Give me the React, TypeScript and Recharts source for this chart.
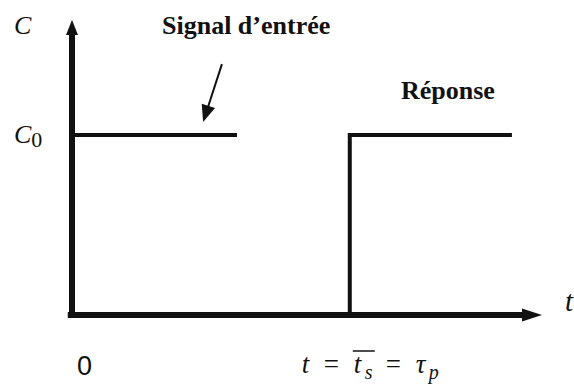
import { LineChart, Line, XAxis, YAxis, ReferenceLine, ReferenceDot } from 'recharts';

// entry signal: step held at C0 from t = 0
const inputTimes = [0, 35.1];
const inputLevels = [1, 1];
// response: delayed step at t = ts
const responseTimes = [59.1, 59.1, 93.6];
const responseLevels = [0, 1, 1];
const xTicks = [0, 59.1];
const yTicks = [1];

const inputData = inputTimes.map((t, i) => ({ t, c: inputLevels[i] }));
const responseData = responseTimes.map((t, i) => ({ t, c: responseLevels[i] }));

const INK = '#111';
const MATH = '"Liberation Serif", "Times New Roman", serif';

function arrowShape(head: number, width: number, stroke: number) {
  return (props: any) => {
    const { x1, y1, x2, y2 } = props;
    const dx = x2 - x1;
    const dy = y2 - y1;
    const len = Math.hypot(dx, dy) || 1;
    const ux = dx / len;
    const uy = dy / len;
    const bx = x2 - ux * head;
    const by = y2 - uy * head;
    const px = (-uy * width) / 2;
    const py = (ux * width) / 2;
    return (
      <g>
        <line x1={x1} y1={y1} x2={bx + ux * 2} y2={by + uy * 2} stroke={INK} strokeWidth={stroke} />
        <polygon points={`${x2},${y2} ${bx + px},${by + py} ${bx - px},${by - py}`} fill={INK} />
      </g>
    );
  };
}

// tick labels are placed from the tick's own x and the plot's bottom edge
function XTick({ x, payload }: any) {
  if (payload.value === 0) {
    return (
      <text x={x + 5} y={375} fontFamily='"Liberation Sans", Arial, sans-serif' fontSize={27} fill={INK}>
        0
      </text>
    );
  }
  const base = 373;
  const x0 = x - 48;
  return (
    <g fill={INK} fontFamily={MATH} fontSize={27}>
      <text y={base}>
        <tspan x={x0} fontStyle="italic">t</tspan>
        <tspan x={x0 + 22}>=</tspan>
        <tspan x={x0 + 52} fontStyle="italic">t</tspan>
        <tspan x={x0 + 63} dy={6} fontSize={20} fontStyle="italic">s</tspan>
        <tspan x={x0 + 84} dy={-6}>=</tspan>
        <tspan x={x0 + 114} fontStyle="italic">τ</tspan>
        <tspan x={x0 + 127} dy={6} fontSize={20} fontStyle="italic">p</tspan>
      </text>
      <line x1={x0 + 51} x2={x0 + 73} y1={base - 22} y2={base - 22} stroke={INK} strokeWidth={1.5} />
    </g>
  );
}

function YTick({ y }: any) {
  return (
    <text x={14} y={y + 8} fill={INK} fontFamily={MATH} fontSize={26}>
      <tspan fontStyle="italic">C</tspan>
      <tspan dy={4} fontSize={22}>0</tspan>
    </text>
  );
}

const textShape = (label: string, dx: number, dy: number, size: number, bold = false, italic = false) =>
  (props: any) => (
    <text
      x={props.cx + dx}
      y={props.cy + dy}
      fill={INK}
      fontFamily={MATH}
      fontSize={size}
      fontWeight={bold ? 700 : 400}
      fontStyle={italic ? 'italic' : 'normal'}
    >
      {label}
    </text>
  );

export default function App() {
  return (
    <div style={{ position: 'fixed', left: 0, top: 0, width: 574, height: 385, background: '#fff' }}>
      <LineChart width={574} height={385} margin={{ top: 20, right: 32, bottom: 40, left: 42 }}>
        <XAxis
          type="number"
          dataKey="t"
          domain={[0, 100]}
          ticks={xTicks}
          height={30}
          axisLine={false}
          tickLine={false}
          tick={<XTick />}
          interval={0}
          allowDataOverflow
        />
        <YAxis
          type="number"
          dataKey="c"
          domain={[0, 1.64]}
          ticks={yTicks}
          width={30}
          axisLine={false}
          tickLine={false}
          tick={<YTick />}
          interval={0}
          allowDataOverflow
        />
        <ReferenceLine
          segment={[{ x: 0, y: -0.015 }, { x: 0, y: 1.64 }]}
          ifOverflow="visible"
          shape={arrowShape(15, 12, 6)}
        />
        <ReferenceLine
          segment={[{ x: -0.9, y: 0 }, { x: 100, y: 0 }]}
          ifOverflow="visible"
          shape={arrowShape(20, 13, 6)}
        />
        <ReferenceLine
          segment={[{ x: 31.9, y: 1.395 }, { x: 27.9, y: 1.073 }]}
          ifOverflow="visible"
          shape={arrowShape(17, 14, 2)}
        />
        <Line data={inputData} dataKey="c" type="linear" stroke={INK} strokeWidth={4} dot={false} isAnimationActive={false} />
        <Line data={responseData} dataKey="c" type="linear" stroke={INK} strokeWidth={4} dot={false} isAnimationActive={false} />
        <ReferenceDot x={0} y={1.64} r={0} ifOverflow="visible" shape={textShape('C', -58, 14, 26, false, true)} />
        <ReferenceDot x={100} y={0} r={0} ifOverflow="visible" shape={textShape('t', 23, -4, 29, false, true)} />
        <ReferenceDot x={18.3} y={1.64} r={0} ifOverflow="visible" shape={textShape('Signal d’entrée', 4, 14, 26, true)} />
        <ReferenceDot x={70} y={1.64} r={0} ifOverflow="visible" shape={textShape('Réponse', 0, 79, 26, true)} />
      </LineChart>
    </div>
  );
}
